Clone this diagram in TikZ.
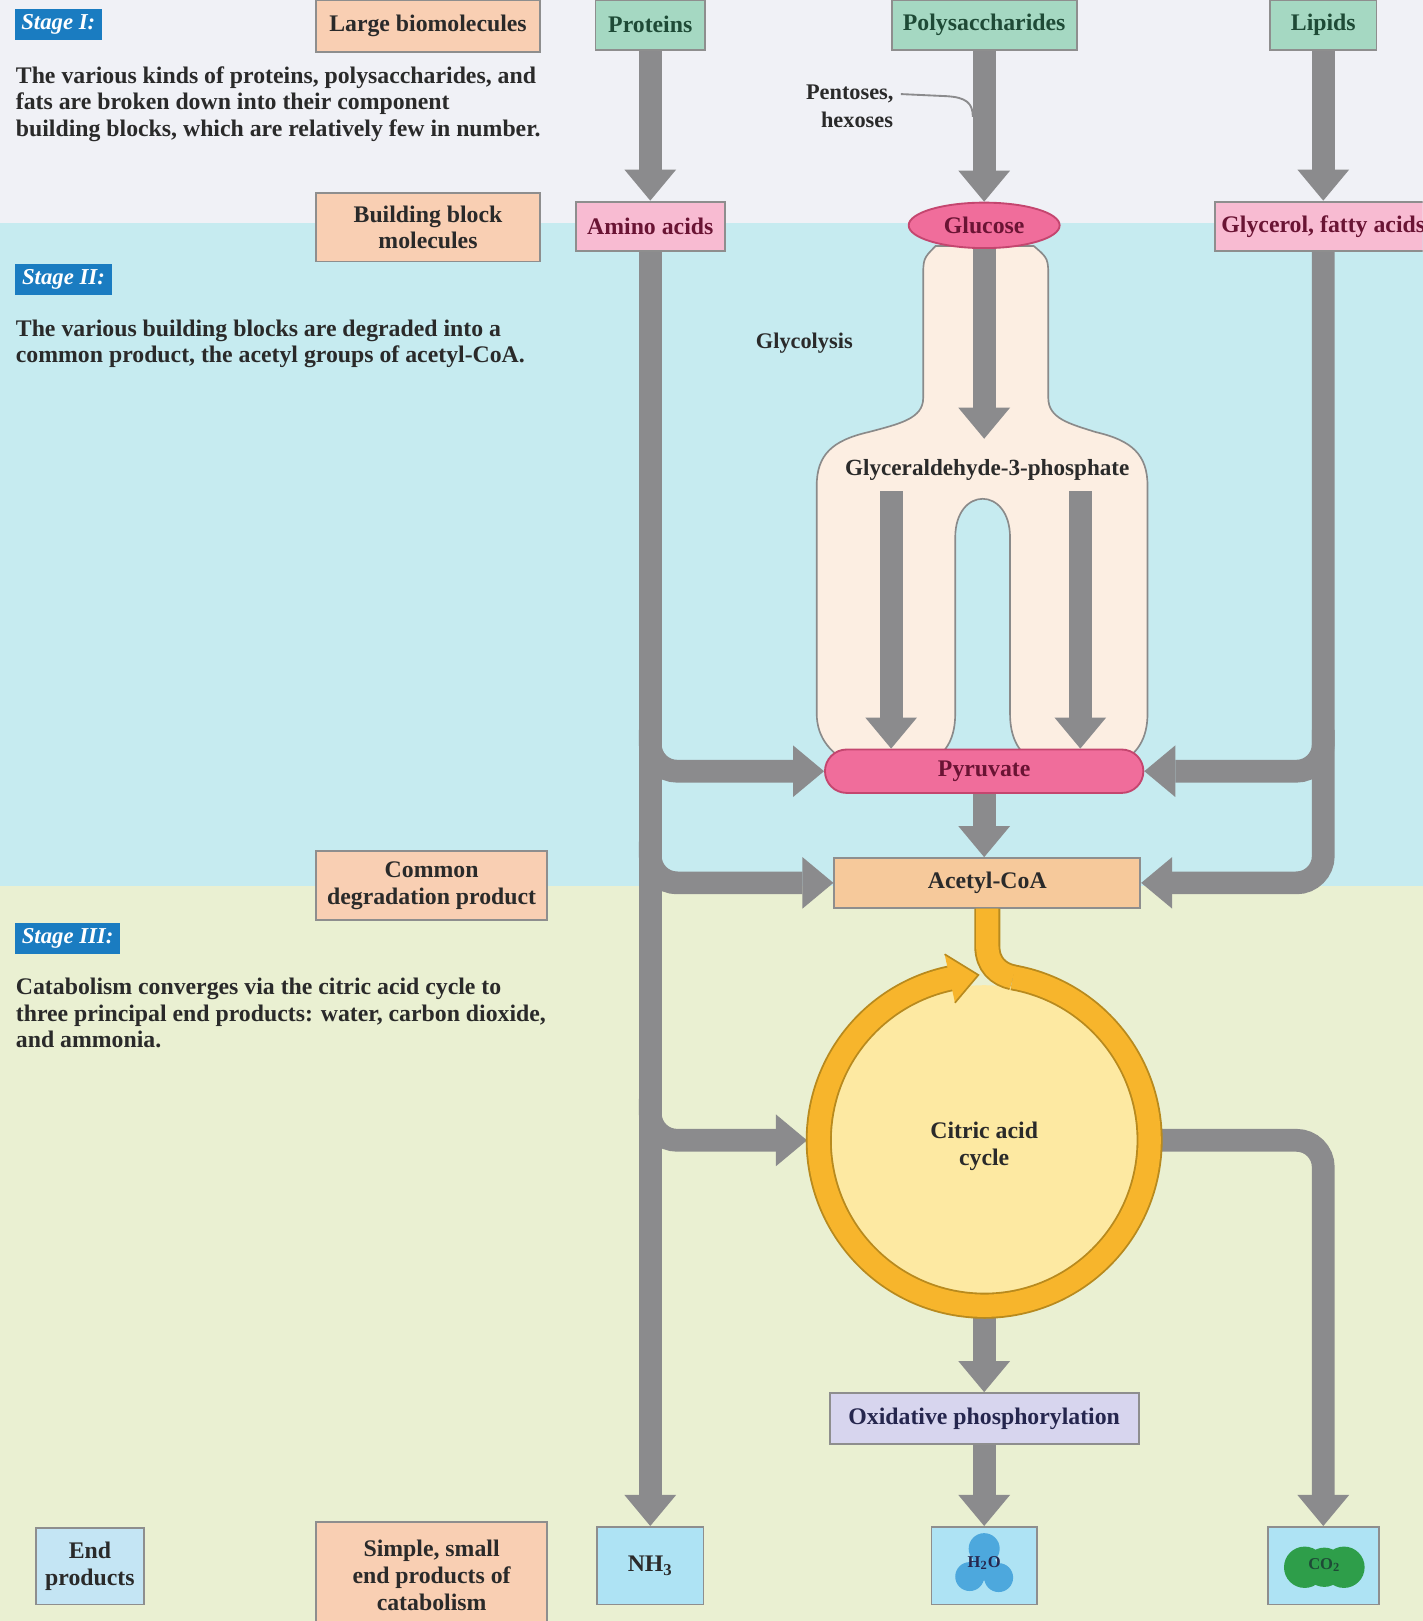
\documentclass[tikz,border=0pt]{standalone}
\usepackage{fontspec}
\setmainfont{Liberation Serif}
\usetikzlibrary{arrows.meta,shapes.geometric,calc}
\definecolor{bgone}{HTML}{F0F1F6}
\definecolor{bgtwo}{HTML}{C6EBF0}
\definecolor{bgthree}{HTML}{EAF0D2}
\definecolor{tagblue}{HTML}{1A7CC1}
\definecolor{peach}{HTML}{F9CFB3}
\definecolor{boxedge}{HTML}{8E8E8E}
\definecolor{mint}{HTML}{A5D8C2}
\definecolor{pinkfill}{HTML}{F8BBD2}
\definecolor{hotpink}{HTML}{F06D9B}
\definecolor{hotpinkedge}{HTML}{C4466F}
\definecolor{cream}{HTML}{FCEEE2}
\definecolor{creamedge}{HTML}{8A8A8A}
\definecolor{acoafill}{HTML}{F6C99B}
\definecolor{arrowgray}{HTML}{8B8B8D}
\definecolor{ringorange}{HTML}{F7B52C}
\definecolor{ringedge}{HTML}{B88A1E}
\definecolor{cycfill}{HTML}{FDE9A2}
\definecolor{oxfill}{HTML}{D7D5EE}
\definecolor{prodfill}{HTML}{AEE3F4}
\definecolor{endfill}{HTML}{C4E5F4}
\definecolor{waterblue}{HTML}{4DA8DD}
\definecolor{cotwogreen}{HTML}{2E9E4A}
\definecolor{inkdark}{HTML}{2A2A2A}
\definecolor{greenink}{HTML}{1E4A36}
\definecolor{maroon}{HTML}{6A1434}
\definecolor{navyink}{HTML}{25264E}
\pgfdeclarelayer{bg}
\pgfsetlayers{bg,main}
\begin{document}
\begin{tikzpicture}[x=0.5pt,y=-0.5pt,
  every node/.style={font=\bfseries\fontsize{11.5}{13}\selectfont, text=inkdark},
  box/.style={draw=boxedge, line width=0.9pt, align=center, inner sep=0pt},
  peachbox/.style={box, fill=peach},
  greenbox/.style={box, fill=mint, text=greenink},
  pinkbox/.style={box, fill=pinkfill, text=maroon},
  prodbox/.style={box, fill=prodfill},
  hotbox/.style={draw=hotpinkedge, line width=0.9pt, fill=hotpink, text=maroon, inner sep=0pt},
  tag/.style={fill=tagblue, text=white, anchor=west, minimum height=15pt, inner sep=0pt,
              font=\bfseries\itshape\fontsize{11}{12}\selectfont},
  para/.style={anchor=north west, align=left, inner sep=0pt, font=\bfseries\fontsize{11.5}{12.8}\selectfont},
  smalllabel/.style={font=\bfseries\fontsize{10.8}{12}\selectfont},
  garrow/.style={draw=arrowgray, line width=11pt, -{Triangle[width=25pt,length=15pt,line width=0pt]}},
  gjoin/.style={garrow, rounded corners=13pt},
  thinlead/.style={draw=arrowgray, line width=0.9pt},
  iconlabel/.style={font=\bfseries\fontsize{8}{9}\selectfont}
]
\path[use as bounding box] (0,0) rectangle (1376,1568);
\clip (0,0) rectangle (1376,1568);

% stage bands
\begin{pgfonlayer}{bg}
  \fill[bgone] (0,0) rectangle (1376,216);
  \fill[bgtwo] (0,216) rectangle (1376,857);
  \fill[bgthree] (0,857) rectangle (1376,1568);
\end{pgfonlayer}

% stage tags and descriptions
\node[tag, minimum width=42pt] (stageone) at (14,24) {Stage I:};
\node[tag, minimum width=47pt] (stagetwo) at (14,270) {Stage II:};
\node[tag, minimum width=51pt] (stagethree) at (14,908) {Stage III:};

\node[para] (textone) at (15,64) {The various kinds of proteins, polysaccharides, and\\fats are broken down into their component\\building blocks, which are relatively few in number.};
\node[para] (texttwo) at (15,309) {The various building blocks are degraded into a\\common product, the acetyl groups of acetyl-CoA.};
\node[para] (textthree) at (15,946) {Catabolism converges via the citric acid cycle to\\three principal end products: water, carbon dioxide,\\and ammonia.};

% level captions
\node[peachbox, minimum width=108pt, minimum height=25pt] (large) at (414,25) {Large biomolecules};
\node[peachbox, minimum width=108pt, minimum height=33pt] (bblock) at (414,220) {Building block\\molecules};
\node[peachbox, minimum width=111.5pt, minimum height=33.5pt] (common) at (417.5,856.5) {Common\\degradation product};
\node[peachbox, minimum width=111.5pt, minimum height=52pt] (simple) at (417.5,1524) {Simple, small\\end products of\\catabolism};
\node[box, fill=endfill, minimum width=52pt, minimum height=37pt] (endprod) at (87,1515) {End\\products};

% macromolecules
\node[greenbox, minimum width=53pt, minimum height=24pt] (prot) at (629,24) {Proteins};
\node[greenbox, minimum width=89.5pt, minimum height=24pt] (poly) at (952,24) {Polysaccharides};
\node[greenbox, minimum width=51.5pt, minimum height=24pt] (lip) at (1280,24) {Lipids};

% building blocks
\node[pinkbox, minimum width=72pt, minimum height=24pt] (amino) at (629,219) {Amino acids};
\node[pinkbox, minimum width=105pt, minimum height=24pt] (glyc) at (1280,219) {Glycerol, fatty acids};
\node[hotbox, ellipse, minimum width=73pt, minimum height=22pt] (gluc) at (952,218) {Glucose};

\node[smalllabel] (pentone) at (822,91) {Pentoses,};
\node[smalllabel] (penttwo) at (829,116) {hexoses};
\coordinate (polyleft) at (941,113);
\node[smalllabel] (glycolysis) at (778,332) {Glycolysis};
\node[inner xsep=0pt, inner ysep=10pt, font=\bfseries\fontsize{11.2}{12}\selectfont] (gap) at (955,455) {Glyceraldehyde-3-phosphate};
\coordinate (gapl) at (862,475);
\coordinate (gapr) at (1045,475);

% common intermediates
\node[hotbox, rectangle, rounded corners=10.5pt, minimum width=154pt, minimum height=21pt] (pyr) at (952,746) {Pyruvate};
\node[box, fill=acoafill, minimum width=148pt, minimum height=24pt] (acoa) at (955,854) {Acetyl-CoA};
\node[circle, minimum size=171pt, inner sep=0pt] (cyc) at (952,1103) {};
\node[align=center] (cyclabel) at (952,1109) {Citric acid\\cycle};
\node[box, fill=oxfill, text=navyink, minimum width=149.5pt, minimum height=24.5pt] (ox) at (952,1372) {Oxidative phosphorylation};

% end products
\node[prodbox, minimum width=51.5pt, minimum height=37.5pt] (nh3) at (629,1514.5) {NH\textsubscript{3}};
\node[prodbox, minimum width=51pt, minimum height=37.5pt] (h2o) at (952,1514.5) {};
\node[prodbox, minimum width=53.5pt, minimum height=37.5pt] (co2) at (1280,1514.5) {};
\fill[waterblue] (952,1498) circle[radius=15] (938,1525) circle[radius=14]
                 (966,1526) circle[radius=14] (952,1516) circle[radius=13];
\node[iconlabel, text=navyink] (h2otext) at (952,1512) {H\textsubscript{2}O};
\fill[cotwogreen] (1262,1516) circle[radius=20] (1300,1516) circle[radius=20] (1281,1516) circle[radius=19];
\node[iconlabel, text=greenink] (co2text) at (1281,1514) {CO\textsubscript{2}};

% glycolysis envelope and cycle interior
\begin{pgfonlayer}{bg}
  \filldraw[fill=cream, draw=creamedge, line width=0.8pt]
    (905,238) .. controls (893,250) .. (893,270) -- (893,385)
    .. controls (893,405) and (870,410) .. (840,418)
    .. controls (805,426) and (790,440) .. (790,470) -- (790,690)
    .. controls (790,715) and (805,730) .. (825,740) -- (895,740)
    .. controls (915,730) and (924,715) .. (924,690) -- (924,520)
    .. controls (924,470) and (977,470) .. (977,520) -- (977,690)
    .. controls (977,715) and (986,730) .. (1005,740) -- (1080,740)
    .. controls (1100,730) and (1110,715) .. (1110,690) -- (1110,470)
    .. controls (1110,440) and (1095,426) .. (1060,418)
    .. controls (1035,410) and (1014,405) .. (1014,385) -- (1014,270)
    .. controls (1014,250) .. (1000,238) -- cycle;
  \fill[cycfill] (cyc.center) circle[radius=150];
\end{pgfonlayer}

% gray flux arrows
\draw[thinlead] (pentone.east) -- (915,93) .. controls (935,94) and (941,100) .. (polyleft);
\draw[garrow] (prot) -- (amino);
\draw[garrow] (poly) -- (gluc);
\draw[garrow] (lip) -- (glyc);
\draw[garrow] (gluc) -- (gluc.south |- gap.north);
\draw[garrow] (gapl) -- (gapl |- pyr.north);
\draw[garrow] (gapr) -- (gapr |- pyr.north);
\draw[garrow] (pyr) -- (pyr.south |- acoa.north);
\draw[garrow] (amino) -- (nh3);
\draw[gjoin] ($(amino.south |- pyr.west)+(0,-40)$) |- (pyr.west);
\draw[gjoin] ($(amino.south |- acoa.west)+(0,-40)$) |- (acoa.west);
\draw[gjoin] ($(amino.south |- cyc.west)+(0,-40)$) |- (cyc.west);
\draw[gjoin] (glyc) |- (acoa.east);
\draw[gjoin] ($(glyc.south |- pyr.east)+(0,-40)$) |- (pyr.east);
\draw[gjoin] (cyc) -| (co2);
\draw[garrow] (cyc) -- (ox);
\draw[garrow] (ox) -- (h2o);

% citric acid cycle ring with acetyl-CoA feed
\coordinate (join) at ($(cyc.center)+(-80:160)$);
\draw[ringedge, line width=12.6pt] (join) arc[start angle=-80, end angle=259, radius=160];
\draw[ringedge, line width=12.6pt] (acoa.south) -- ++(0,36) .. controls +(0,18) and +(-14,-3) .. (join);
\draw[ringorange, line width=10.8pt] (join) arc[start angle=-80, end angle=259, radius=160];
\draw[ringorange, line width=10.8pt] (acoa.south) -- ++(0,36) .. controls +(0,18) and +(-14,-3) .. (join);
\coordinate (tipout) at ($(cyc.center)+(258:184)$);
\coordinate (tipin) at ($(cyc.center)+(258:136)$);
\coordinate (tippoint) at ($(cyc.center)+(268:160)$);
\fill[ringorange] (tipout) -- (tippoint) -- (tipin) -- cycle;
\draw[ringedge, line width=0.8pt] (tipout) -- (tippoint) -- (tipin);
\end{tikzpicture}
\end{document}
